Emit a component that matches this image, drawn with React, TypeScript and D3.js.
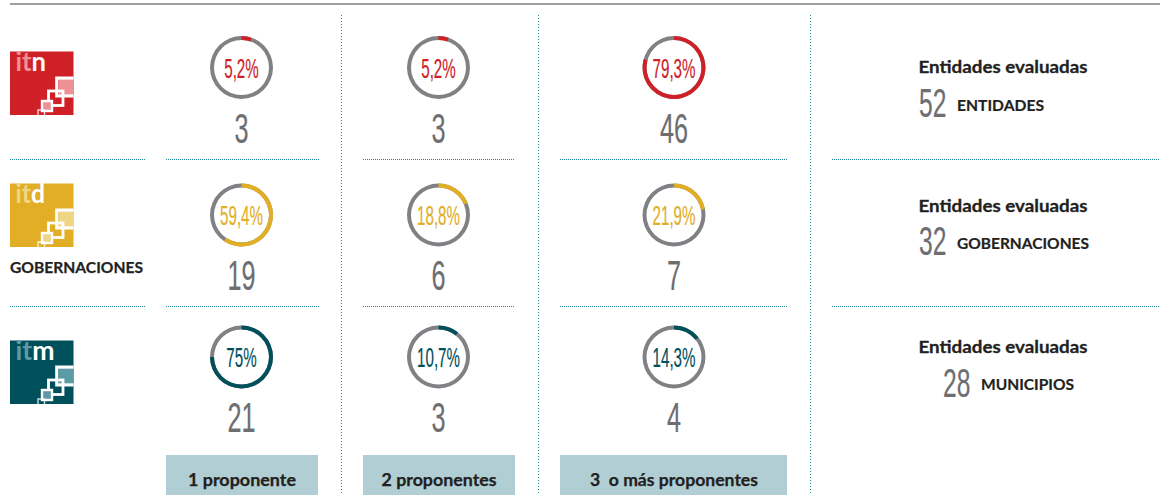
import React from "react";
import * as d3 from "d3";

const W = 1160, H = 495;
const groups = ["itn", "itd", "itm"];
const groupColors = ["#d02027", "#e1ae25", "#00505c"];
const groupTints = ["#ec9295", "#efd586", "#5c9aa6"];
const logoTextWidths = [30.5, 29.5, 39];
const groupNames = ["", "GOBERNACIONES", ""];
const columns = ["1 proponente", "2 proponentes", "3  o más proponentes"];
const columnWidths = [108, 115, 168];
const pctRow1 = [5.2, 5.2, 79.3];
const pctRow2 = [59.4, 18.8, 21.9];
const pctRow3 = [75, 10.7, 14.3];
const pctLabels = [["5,2%", "5,2%", "79,3%"], ["59,4%", "18,8%", "21,9%"], ["75%", "10,7%", "14,3%"]];
const counts = [[3, 3, 46], [19, 6, 7], [21, 3, 4]];
const evalTitle = "Entidades evaluadas";
const evalCounts = [52, 32, 28];
const evalNames = ["ENTIDADES", "GOBERNACIONES", "MUNICIPIOS"];
const evalNameWidths = [87, 132, 93];

const pcts = [pctRow1, pctRow2, pctRow3];
const colX = [241.5, 438.5, 674];
const rowY = [67.5, 215, 357];
const countY = [143, 290, 432];
const logoY = [51.5, 183.5, 340.5];
const boxes = [[166, 318], [363, 515], [560, 787]];
const hLines = [[10, 145], [166, 319], [363, 515], [560, 787], [832, 1160]];
const hY = [159.5, 306.5];
const vX = [341.5, 538.5, 810.5];
const evalX = [919, 919, 943];
const evalTitleY = [73, 212, 353];
const evalCountY = [117, 255, 397];
const evalNameX = [957, 957, 981];
const evalNameY = [110.5, 249, 390];

const SANS = "Lato, 'Open Sans', sans-serif";
const NARROW = "'Liberation Sans Narrow', 'Liberation Sans', sans-serif";
const DOT = "#1f8695";
const INK = "#231f20";

const arcGen = d3.arc<any>().innerRadius(27.5).outerRadius(31.5);
const share = d3.scaleLinear().domain([0, 100]).range([0, 2 * Math.PI]);

function Condensed({ x, y, size, sx, fill, anchor, children }: any) {
  return (
    <text transform={`translate(${x},${y}) scale(${sx},1)`} fontFamily={NARROW} fontSize={size} fill={fill} stroke={fill} strokeWidth={0.2} textAnchor={anchor}>
      {children}
    </text>
  );
}

function Logo({ y, i }: { y: number; i: number }) {
  const c = groupColors[i], t = groupTints[i];
  return (
    <g transform={`translate(10,${y})`}>
      <rect x={0} y={0} width={63.5} height={63.5} fill={c} />
      <text x={5.5} y={19.5} fontFamily={SANS} fontSize={26} fontWeight={700} fill={t} textLength={logoTextWidths[i]} lengthAdjust="spacingAndGlyphs">
        it<tspan fill="#fff">{groups[i][2]}</tspan>
      </text>
      <rect x={49} y={28} width={14.5} height={15} fill={t} />
      <path d="M63.5 26.7H46.8V44.3H63.5" fill="none" stroke="#fff" strokeWidth={3.2} />
      <rect x={38.5} y={39.5} width={14.5} height={14.5} fill="none" stroke="#fff" strokeWidth={2.8} />
      <rect x={33} y={50} width={9} height={9} fill={t} />
      <rect x={32} y={49.5} width={10} height={10} fill="none" stroke="#fff" strokeWidth={2.4} />
      <path d="M28 63.5V58.5H34.5V63.5" fill="none" stroke="#fff" strokeWidth={1.4} opacity={0.8} />
    </g>
  );
}

export default function App() {
  return (
    <svg width={W} height={H} viewBox={`0 0 ${W} ${H}`} style={{ position: "absolute", left: 0, top: 0, background: "#fff" }}>
      <line x1={10} x2={1160} y1={4} y2={4} stroke="#808184" strokeWidth={1.5} />
      {vX.map((x) => (
        <line key={x} x1={x} x2={x} y1={15} y2={495} stroke={DOT} strokeWidth={1} strokeDasharray="1 2" />
      ))}
      {hY.map((y) => hLines.map(([a, b]) => (
        <line key={`${y}-${a}`} x1={a} x2={b} y1={y} y2={y} stroke={DOT} strokeWidth={1} strokeDasharray="1 1" />
      )))}
      {groups.map((g, i) => <Logo key={g} y={logoY[i]} i={i} />)}
      {groupNames.map((n, i) => n ? (
        <text key={n} x={10} y={273} fontFamily={SANS} fontWeight={700} fontSize={15} stroke={INK} strokeWidth={0.25} textLength={133} lengthAdjust="spacingAndGlyphs" fill={INK}>{n}</text>
      ) : null)}
      {pcts.map((row, r) => row.map((p, c) => (
        <g key={`${r}-${c}`}>
          <g transform={`translate(${colX[c]},${rowY[r]})`}>
            <path d={arcGen({ startAngle: 0, endAngle: 2 * Math.PI }) as string} fill="#808184" />
            <path d={arcGen({ startAngle: 0, endAngle: share(p) }) as string} fill={groupColors[r]} />
          </g>
          <Condensed x={colX[c]} y={rowY[r] + 10} size={27} sx={0.56} fill={groupColors[r]} anchor="middle">{pctLabels[r][c]}</Condensed>
          <Condensed x={colX[c]} y={countY[r]} size={42} sx={0.6} fill="#6d6e71" anchor="middle">{counts[r][c]}</Condensed>
        </g>
      )))}
      {columns.map((t, i) => (
        <g key={t}>
          <rect x={boxes[i][0]} y={455} width={boxes[i][1] - boxes[i][0]} height={40} fill="#b0ced4" />
          <text x={(boxes[i][0] + boxes[i][1]) / 2 + (i === 2 ? 0.5 : 0)} y={486} textAnchor="middle" fontFamily={SANS} fontWeight={700} fontSize={16.5} stroke={INK} strokeWidth={0.25} fill={INK} xmlSpace="preserve" textLength={columnWidths[i]} lengthAdjust="spacingAndGlyphs">{t}</text>
        </g>
      ))}
      {evalCounts.map((n, i) => (
        <g key={n}>
          <text x={918.5} y={evalTitleY[i]} fontFamily={SANS} fontWeight={700} fontSize={17} stroke={INK} strokeWidth={0.3} textLength={169} lengthAdjust="spacingAndGlyphs" fill={INK}>{evalTitle}</text>
          <Condensed x={evalX[i]} y={evalCountY[i]} size={41} sx={0.6} fill="#6d6e71" anchor="start">{n}</Condensed>
          <text x={evalNameX[i]} y={evalNameY[i]} fontFamily={SANS} fontWeight={700} fontSize={15} stroke={INK} strokeWidth={0.2} textLength={evalNameWidths[i]} lengthAdjust="spacingAndGlyphs" fill={INK}>{evalNames[i]}</text>
        </g>
      ))}
    </svg>
  );
}
